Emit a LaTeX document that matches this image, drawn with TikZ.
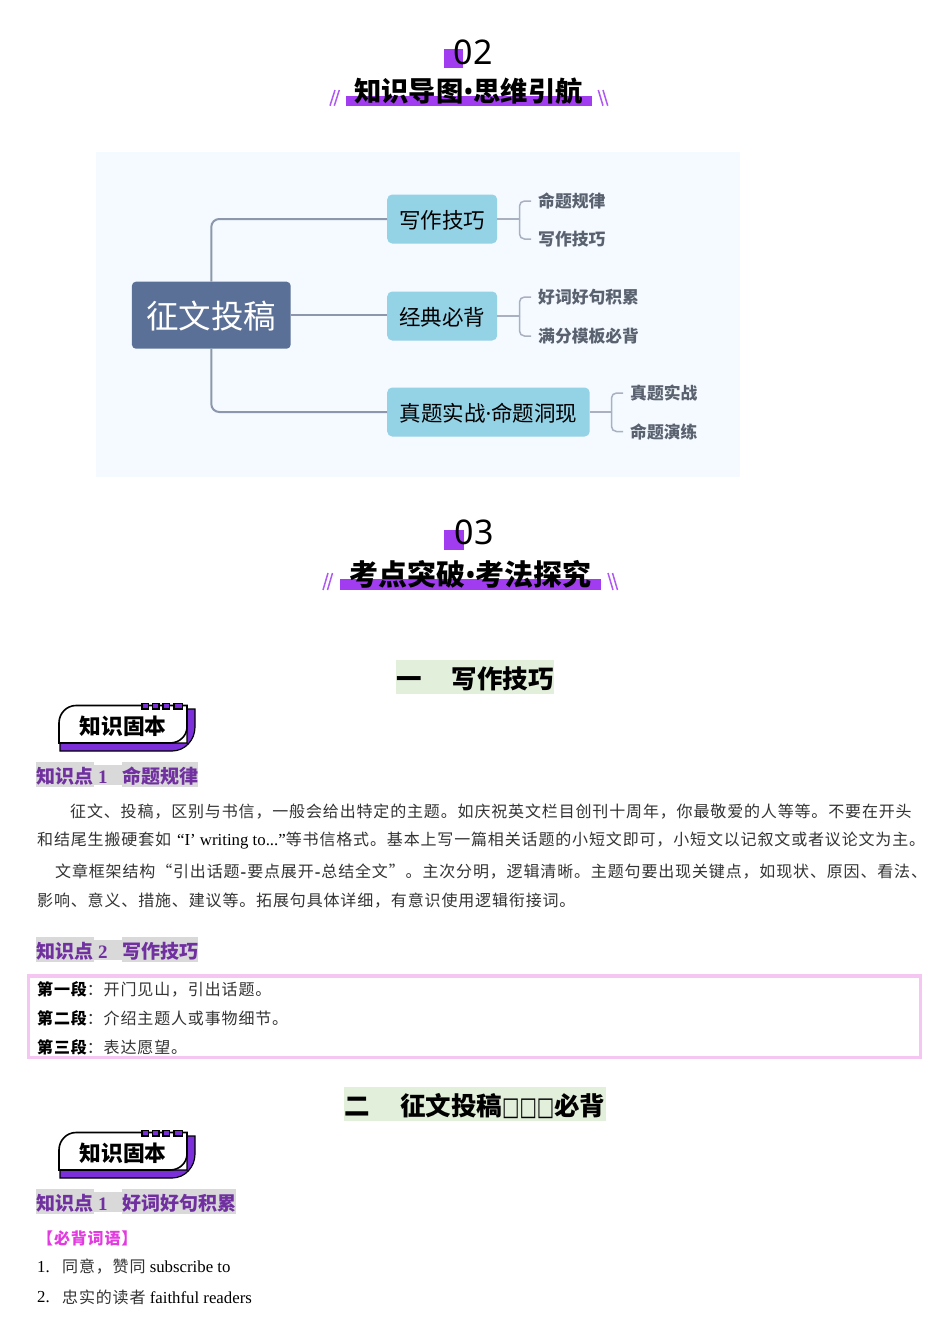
\documentclass[tikz,border=0pt]{standalone}
\usepackage{graphicx}
\usepackage{fontspec}
\setmainfont{Liberation Serif}
\setsansfont{Noto Sans}
\newfontfamily\cjkfont{Noto Sans CJK SC}
\newfontfamily\cjkbody[LetterSpace=5.3]{Noto Sans CJK SC}
\newfontfamily\tofufont{DejaVu Sans}
\definecolor{mapback}{HTML}{F4FAFF}
\definecolor{rootblue}{HTML}{5B7096}
\definecolor{branchblue}{HTML}{94D2E6}
\definecolor{linkgray}{HTML}{8D97AC}
\definecolor{leafgray}{HTML}{5A6270}
\definecolor{headpurple}{HTML}{A23CF0}
\definecolor{badgepurple}{HTML}{7B2FD8}
\definecolor{kppurple}{HTML}{7030A0}
\definecolor{kpgray}{HTML}{D9D9D9}
\definecolor{sectgreen}{HTML}{E2EFDA}
\definecolor{framepink}{HTML}{F5C6F2}
\definecolor{wordpink}{HTML}{E23CE0}
\newcommand{\fsize}[1]{\fontsize{#1}{#1}\selectfont}
\newcommand{\zh}[1]{{\cjkbody\fsize{16}\color{black!80}#1}}
\newcommand{\zhb}[1]{{\cjkbody\fsize{16}\bfseries #1}}
\newcommand{\kpdigit}[1]{\makebox[28pt][l]{\hspace{4pt}#1}}
\newcommand{\tofu}{{\tofufont\fsize{18.4}\scalebox{1}[1.4]{□}}}
\tikzset{
  rootbox/.style={fill=rootblue,rounded corners=4,text=white,minimum width=158.7,minimum height=67,inner sep=0,text height=27,text depth=0,font=\cjkfont\fsize{32.5}},
  branchbox/.style={fill=branchblue,rounded corners=5,minimum height=49,inner sep=0,text height=20,text depth=0.5,font=\cjkfont\fsize{21.5}},
  leaftext/.style={anchor=west,inner xsep=7,inner ysep=0,text=leafgray,font=\cjkfont\bfseries\fsize{16.8}},
  mainlink/.style={draw=linkgray,line width=2,rounded corners=8},
  sublink/.style={draw=linkgray!75,line width=1.5,rounded corners=5},
  bodyline/.style={anchor=west,inner sep=0,font=\fsize{16.8}},
  headnum/.style={inner sep=0,font=\sffamily\fsize{34}},
  headtitle/.style={inner sep=0,font=\cjkfont\bfseries\fsize{27.3}},
  headbar/.style={fill=headpurple},
  slashline/.style={draw=headpurple!85,line width=1.5},
  secthead/.style={fill=sectgreen,inner sep=0,minimum height=33.5,text height=23,text depth=0,font=\cjkfont\bfseries\fsize{25.5}},
  kpbox/.style={fill=kpgray,inner sep=0,anchor=west,minimum height=25,text height=18,text depth=0,text=kppurple,font=\cjkfont\bfseries\fsize{19}},
  kpnum/.style={fill=kpgray,inner sep=0,anchor=west,minimum height=20,text height=18,text depth=0,text=kppurple,font=\bfseries\fsize{19}},
}
\newcommand{\knowbadge}[2]{
\begin{scope}[yshift=#2]
\draw[fill=badgepurple,line width=1.2] (60,743) -- (60,751) -- (172,751) to[out=0,in=-90] (195,727) -- (195,709) -- (187,709) -- (187,743) -- cycle;
\draw[fill=white,line width=1.6] (59,743) -- (59,723) to[out=90,in=180] (76,705.5) -- (187,705.5) -- (187,727) to[out=-90,in=0] (170,743) -- cycle;
\foreach \x/\w in {142/6.5,152.5/6.5,163/6.5,174/8.5}
  \draw[fill=badgepurple,line width=1.2] (\x,703.5) rectangle ++(\w,5.5);
\node[inner sep=0,font=\cjkfont\bfseries\fsize{21.7}] (#1) at (123,726) {知识固本};
\end{scope}
}
\begin{document}
\begin{tikzpicture}[x=1pt,y=-1pt]
\useasboundingbox[fill=white] (0,0) rectangle (950,1344);

% header 02
\fill[headbar] (444,49) rectangle (463,68);
\node[headnum] (numtwo) at (473,52.5) {02};
\fill[headbar] (345.7,96) rectangle (592,105.7);
\node[headtitle] (titletwo) at (468.5,91) {知识导图{\sffamily\bfseries •}思维引航};
\foreach \x in {330,334.3} \draw[slashline] (\x,105.7) -- ++(5,-15.7);
\foreach \x in {598.3,603} \draw[slashline] (\x,90) -- ++(4.7,15.7);

% mind map
\fill[mapback] (96,152) rectangle (740,477);
\node[rootbox] (root) at (211.3,315.2) {征文投稿};
\node[branchbox,anchor=west,minimum width=110] (write) at (387,219) {写作技巧};
\node[branchbox,anchor=west,minimum width=110] (classic) at (387,316) {经典必背};
\node[branchbox,anchor=west,minimum width=202.5] (real) at (387,412) {真题实战{\sffamily ·}命题洞现};
\draw[mainlink] (root.north) |- (write.west);
\draw[mainlink] (root.east) -- (root.east -| classic.west);
\draw[mainlink] (root.south) |- (real.west);
\node[leaftext] (rule) at (531,201) {命题规律};
\node[leaftext] (skill) at (531,239) {写作技巧};
\node[leaftext] (words) at (531,297) {好词好句积累};
\node[leaftext] (model) at (531,336) {满分模板必背};
\node[leaftext] (practice) at (623,393) {真题实战};
\node[leaftext] (drill) at (623,431.5) {命题演练};
\coordinate (jwrite) at (519.5,219);
\coordinate (jclassic) at (519.5,316);
\coordinate (jreal) at (611.5,412);
\draw[sublink] (write.east) -- (jwrite);
\draw[sublink] (classic.east) -- (jclassic);
\draw[sublink] (real.east) -- (jreal);
\draw[sublink] (rule.west) -| (jwrite);
\draw[sublink] (skill.west) -| (jwrite);
\draw[sublink] (words.west) -| (jclassic);
\draw[sublink] (model.west) -| (jclassic);
\draw[sublink] (practice.west) -| (jreal);
\draw[sublink] (drill.west) -| (jreal);

% header 03
\fill[headbar] (444,530) rectangle (464,550);
\node[headnum] (numthree) at (474,532.5) {03};
\fill[headbar] (339.7,579) rectangle (601,590);
\node[headtitle,font=\cjkfont\bfseries\fsize{29}] (titlethree) at (470.5,574) {考点突破{\sffamily\bfseries •}考法探究};
\foreach \x in {323,327.5} \draw[slashline] (\x,590) -- ++(5,-17);
\foreach \x in {608,612.5} \draw[slashline] (\x,573) -- ++(5,17);

% part one
\node[secthead,minimum width=158] (partone) at (475,677) {一\hspace{30pt}写作技巧};
\knowbadge{badgeone}{0}
\node[kpbox,minimum width=58] (kpa) at (36,774.5) {知识点};
\node[kpnum] (kpan) at (94,774.5) {\kpdigit{1}};
\node[kpbox] (kpat) at (122,774.5) {命题规律};
\node[bodyline] (la) at (70,812) {\zh{征文、投稿，区别与书信，一般会给出特定的主题。如庆祝英文栏目创刊十周年，你最敬爱的人等等。不要在开头}};
\node[bodyline] (lb) at (37,841) {\zh{和结尾生搬硬套如}\hspace{6pt}“I’ writing to...”\zh{等书信格式。基本上写一篇相关话题的小短文即可，小短文以记叙文或者议论文为主。}};
\node[bodyline] (lc) at (55,872) {\zh{文章框架结构“引出话题}\hspace{1pt}-\hspace{1pt}\zh{要点展开}\hspace{1pt}-\hspace{1pt}\zh{总结全文”。主次分明，逻辑清晰。主题句要出现关键点，如现状、原因、看法、}};
\node[bodyline] (ld) at (37,901) {\zh{影响、意义、措施、建议等。拓展句具体详细，有意识使用逻辑衔接词。}};
\node[kpbox,minimum width=58] (kpb) at (36,949.5) {知识点};
\node[kpnum] (kpbn) at (94,949.5) {\kpdigit{2}};
\node[kpbox] (kpbt) at (122,949.5) {写作技巧};
\draw[draw=framepink,line width=3.5] (28.5,976) rectangle (920.5,1057.5);
\node[bodyline] (pa) at (37,989) {\zhb{第一段}\zh{：开门见山，引出话题。}};
\node[bodyline] (pb) at (37,1018) {\zhb{第二段}\zh{：介绍主题人或事物细节。}};
\node[bodyline] (pc) at (37,1047) {\zhb{第三段}\zh{：表达愿望。}};

% part two
\node[secthead,minimum width=262.5] (parttwo) at (475,1104) {二\hspace{30pt}征文投稿\tofu\tofu\tofu 必背};
\knowbadge{badgetwo}{-427}
\node[kpbox,minimum width=58] (kpc) at (36,1201.5) {知识点};
\node[kpnum] (kpcn) at (94,1201.5) {\kpdigit{1}};
\node[kpbox] (kpct) at (122,1201.5) {好词好句积累};
\node[bodyline,text=wordpink,font=\cjkbody\bfseries\fsize{16}] (must) at (37,1238) {【必背词语】};
\node[bodyline] (wa) at (37,1267) {1.};
\node[bodyline] (wat) at (62,1267) {\zh{同意，赞同} subscribe to};
\node[bodyline] (wb) at (37,1297) {2.};
\node[bodyline] (wbt) at (62,1297) {\zh{忠实的读者} faithful readers};
\end{tikzpicture}
\end{document}
